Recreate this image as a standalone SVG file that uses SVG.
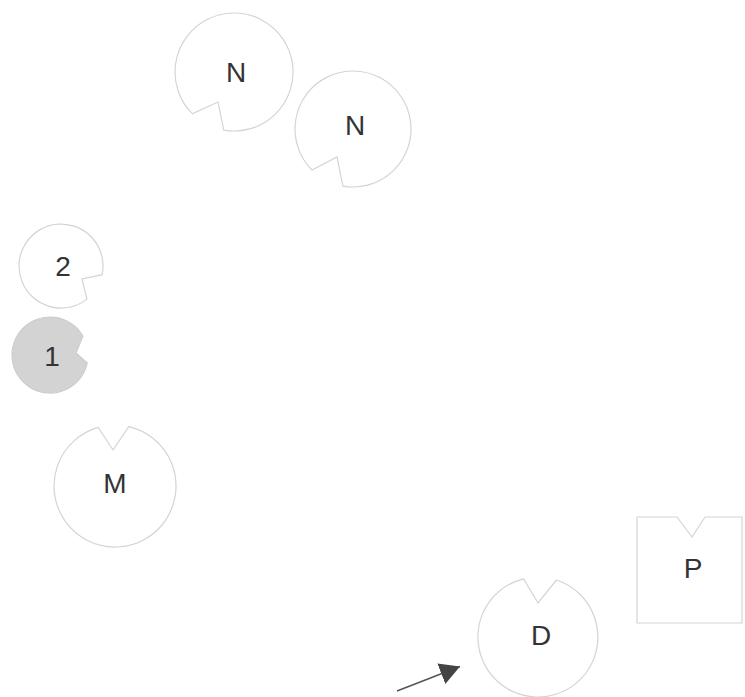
<svg xmlns="http://www.w3.org/2000/svg" width="745" height="697" viewBox="0 0 745 697">
<style>
.shape{fill:#ffffff;stroke:#d4d4d4;stroke-width:1.2}
.grey{fill:#d3d3d3;stroke:#cccccc;stroke-width:1.2}
.lbl{font-family:"Liberation Sans",Arial,sans-serif;font-size:28px;fill:#333333;text-anchor:middle}
.conn{stroke:#555555;stroke-width:1.5;fill:none}
</style>
<defs>
<marker id="ah" markerUnits="userSpaceOnUse" markerWidth="22" markerHeight="24" refX="20" refY="11" orient="auto">
<path d="M0,0 L20,11 L0,22 Z" fill="#444444"/>
</marker>
</defs>
<rect width="745" height="697" fill="#ffffff"/>
<g id="node-n1">
<path class="shape" d="M192.3,113.7 A59 59 0 1 1 223.8,130.1 L218,102 Z"/>
<text class="lbl" x="236" y="82">N</text>
</g>
<g id="node-n2">
<path class="shape" d="M312,170 A58 58 0 1 1 342.9,186.1 L337,157 Z"/>
<text class="lbl" x="355" y="135">N</text>
</g>
<g id="node-2">
<path class="shape" d="M86.9,299.1 A42 42 0 1 1 102.1,274.7 L82,279 Z"/>
<text class="lbl" x="63" y="276">2</text>
</g>
<g id="node-1">
<path class="grey" d="M87.2,362.9 A38 38 0 1 1 82.9,336 L76,353 Z"/>
<text class="lbl" x="52" y="366">1</text>
</g>
<g id="node-m">
<path class="shape" d="M128.7,426.6 A61 61 0 1 1 98.2,427.4 L113,450 Z"/>
<text class="lbl" x="115" y="493">M</text>
</g>
<g id="node-d">
<path class="shape" d="M556.5,580 A60 60 0 1 1 523.5,578.8 L538,603 Z"/>
<text class="lbl" x="541" y="645">D</text>
</g>
<g id="node-p">
<path class="shape" d="M637,517 L677,517 L692,537 L705,517 L742,517 L742,623 L637,623 Z"/>
<text class="lbl" x="693" y="578">P</text>
</g>
<g id="connectors">
<line class="conn" x1="397" y1="691" x2="460" y2="666.5" marker-end="url(#ah)"/>
</g>
</svg>
